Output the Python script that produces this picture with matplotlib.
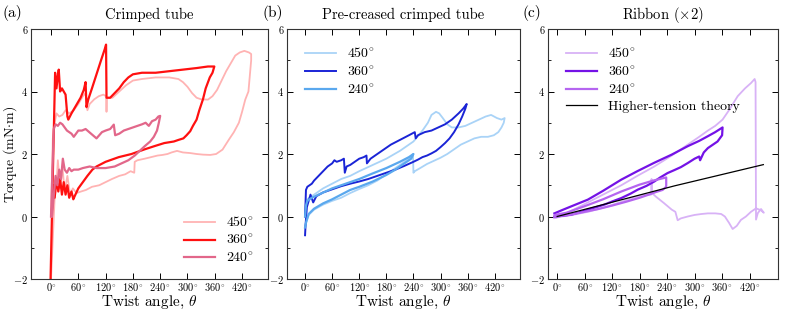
import matplotlib
matplotlib.use("Agg")
import matplotlib.pyplot as plt
from matplotlib.ticker import MultipleLocator, FixedLocator

plt.rcParams['font.family'] = 'serif'
plt.rcParams['font.serif'] = ['cmr10']
plt.rcParams['mathtext.fontset'] = 'cm'
plt.rcParams['axes.formatter.use_mathtext'] = True

# ---- (a) crimped tube ----
a450_x = [0, 4, 8, 12, 18, 25, 32, 40, 50, 60, 70, 76, 80, 85, 95, 105, 115, 121, 122, 123, 135, 150, 165,
          180, 200, 230, 260, 280, 290, 300, 310, 320, 330, 345, 355, 365, 375, 385, 395, 405, 415, 425, 435,
          440, 440, 437, 434, 427, 420, 413, 402, 391, 377, 363, 350, 334, 320, 306, 290, 277, 265, 256, 245,
          234, 220, 206, 190, 184, 183, 175, 163, 150, 134, 120, 106, 90, 77, 66, 56, 48, 42, 36, 30, 25, 20,
          15, 12, 8, 0]
a450_y = [0, 2.5, 3.0, 3.3, 3.2, 3.25, 3.4, 3.3, 3.4, 3.6, 3.85, 3.95, 3.4, 3.6, 3.75, 3.85, 3.9, 3.85, 3.35, 3.8,
          3.8, 4.0, 4.2, 4.35, 4.4, 4.45, 4.45, 4.4, 4.3, 4.15, 3.95, 3.8, 3.75, 3.74, 3.85, 4.05, 4.35, 4.65,
          4.9, 5.15, 5.25, 5.3, 5.25, 5.2, 5.0, 4.5, 4.0, 3.74, 3.35, 3.0, 2.7, 2.46, 2.14, 2.0, 1.97, 1.98,
          2.0, 2.03, 2.05, 2.1, 2.05, 2.0, 1.97, 1.95, 1.9, 1.85, 1.8, 1.75, 1.4, 1.45, 1.35, 1.3, 1.2, 1.1,
          1.0, 0.95, 0.85, 0.8, 0.75, 0.9, 0.7, 1.3, 0.8, 1.6, 0.9, 1.8, 1.0, 0.6, -2.0]

a360_x = [-1, 5, 9, 12, 15, 17, 20, 24, 28, 32, 36, 38, 45, 55, 65, 72, 76, 78, 82, 90, 100, 110, 118, 121,
          122, 130, 140, 150, 160, 170, 180, 200, 230, 260, 290, 320, 345, 359,
          355, 349, 340, 334, 326, 320, 312, 306, 298, 291, 280, 270, 249, 227, 206, 177, 149, 120, 100, 91,
          80, 70, 60, 52, 49, 45, 40, 36, 32, 28, 24, 20, 16, 12, 8, 5, 2]
a360_y = [-2.0, 2.0, 4.6, 4.1, 4.5, 4.7, 4.0, 4.1, 4.0, 3.9, 3.2, 3.1, 3.3, 3.55, 3.8, 4.05, 4.3, 3.5, 3.75,
          4.1, 4.55, 5.0, 5.35, 5.5, 3.8, 3.8, 3.95, 4.1, 4.3, 4.45, 4.55, 4.6, 4.6, 4.65, 4.7, 4.75, 4.8, 4.8,
          4.6, 4.45, 4.1, 3.75, 3.4, 3.1, 2.9, 2.73, 2.6, 2.5, 2.45, 2.4, 2.35, 2.25, 2.15, 2.0, 1.9, 1.75,
          1.6, 1.5, 1.3, 1.1, 0.9, 0.65, 0.55, 0.8, 0.6, 1.0, 0.7, 1.1, 0.7, 1.2, 0.8, 1.2, 0.6, 1.0, 0.2]

a240_x = [0, 6, 10, 15, 20, 25, 30, 35, 40, 45, 50, 55, 60, 68, 76, 84, 92, 100, 106, 112, 120, 130, 138, 141,
          150, 160, 170, 180, 190, 200, 208, 215, 222, 230, 236, 240,
          237, 233, 226, 218, 206, 195, 184, 170, 155, 140, 120, 100, 85, 70, 60, 50, 45, 40, 35, 30, 26, 22,
          18, 14, 10, 5, 2]
a240_y = [0, 2.8, 2.95, 2.9, 3.0, 2.95, 2.85, 2.75, 2.7, 2.65, 2.55, 2.65, 2.75, 2.75, 2.8, 2.7, 2.6, 2.5, 2.6,
          2.7, 2.75, 2.8, 2.94, 2.6, 2.65, 2.75, 2.8, 2.85, 2.9, 2.95, 3.0, 2.9, 3.05, 3.1, 3.2, 3.22,
          3.0, 2.75, 2.55, 2.4, 2.25, 2.1, 1.95, 1.8, 1.7, 1.6, 1.55, 1.55, 1.6, 1.55, 1.5, 1.5, 1.45, 1.55,
          1.4, 1.5, 1.85, 1.2, 1.5, 1.0, 1.3, 0.5, 0]

# ---- (b) pre-creased crimped tube ----
b450_x = [0, 2, 5, 10, 20, 40, 60, 80, 100, 120, 150, 180, 210, 240, 260, 272, 280, 290, 297, 305, 315, 325,
          340, 355, 370, 385, 400, 412, 425, 435, 442,
          440, 435, 428, 418, 405, 390, 375, 360, 345, 330, 315, 300, 285, 270, 255, 243, 240, 239, 230, 215,
          200, 180, 160, 140, 120, 100, 80, 60, 40, 20, 8, 2, 0]
b450_y = [0, 0.45, 0.55, 0.6, 0.7, 0.9, 1.05, 1.2, 1.3, 1.45, 1.65, 1.85, 2.1, 2.4, 2.75, 3.0, 3.25, 3.35, 3.3,
          3.15, 2.95, 2.85, 2.85, 2.9, 3.0, 3.1, 3.2, 3.25, 3.15, 3.1, 3.15,
          3.0, 2.85, 2.7, 2.6, 2.55, 2.55, 2.5, 2.4, 2.3, 2.15, 2.0, 1.88, 1.78, 1.68, 1.55, 1.45, 1.4, 2.0,
          1.85, 1.7, 1.55, 1.35, 1.15, 1.0, 0.88, 0.75, 0.6, 0.5, 0.38, 0.22, 0.05, -0.2, -0.35]

b360_x = [0, 2, 5, 10, 15, 20, 30, 40, 50, 55, 60, 65, 70, 80, 86, 88, 92, 100, 110, 120, 130, 136, 137, 145,
          160, 175, 190, 210, 230, 243, 245, 250, 265, 280, 295, 310, 325, 340, 350, 358,
          355, 348, 340, 330, 320, 310, 300, 290, 280, 270, 260, 250, 240, 220, 200, 180, 160, 140, 120, 100,
          80, 60, 40, 25, 18, 12, 8, 4, 1, 0]
b360_y = [0, 0.85, 0.95, 1.0, 1.05, 1.15, 1.3, 1.45, 1.6, 1.65, 1.7, 1.8, 1.75, 1.8, 1.85, 1.4, 1.6, 1.65,
          1.75, 1.85, 1.9, 1.95, 1.7, 1.85, 2.0, 2.15, 2.3, 2.45, 2.6, 2.7, 2.5, 2.6, 2.7, 2.75, 2.85, 2.95,
          3.1, 3.3, 3.45, 3.6,
          3.45, 3.2, 2.95, 2.7, 2.5, 2.35, 2.22, 2.1, 2.02, 1.95, 1.9, 1.82, 1.75, 1.62, 1.5, 1.4, 1.3, 1.2,
          1.12, 1.05, 0.97, 0.87, 0.77, 0.65, 0.45, 0.7, 0.5, 0.3, -0.3, -0.6]

b240_x = [0, 2, 5, 15, 30, 60, 90, 120, 150, 180, 210, 230, 240,
          235, 220, 200, 180, 150, 120, 100, 80, 60, 40, 20, 8, 2, 0]
b240_y = [0, 0.35, 0.5, 0.6, 0.7, 0.9, 1.05, 1.2, 1.38, 1.55, 1.75, 1.9, 2.0,
          1.85, 1.7, 1.5, 1.33, 1.12, 0.95, 0.85, 0.7, 0.55, 0.42, 0.25, 0.08, -0.2, -0.35]

# ---- (c) ribbon ----
c450_x = [-6, 20, 67, 100, 140, 175, 212, 250, 285, 310, 329, 345, 361, 375, 394, 410, 423, 431, 433, 434, 438,
          445, 451,
          445, 434, 423, 412, 401, 392, 383, 375, 366, 358, 345, 329, 315, 300, 285, 270, 263, 258, 250, 233,
          216, 207, 206, 205, 190, 170, 150, 130, 110, 90, 70, 50, 30, 10, -6]
c450_y = [-0.05, 0.1, 0.45, 0.7, 1.0, 1.3, 1.6, 1.95, 2.3, 2.55, 2.75, 2.9, 3.1, 3.4, 3.85, 4.1, 4.27, 4.4, 4.3,
          -0.1, 0.11, 0.24, 0.12,
          0.2, 0.26, 0.15, 0.0, -0.11, -0.3, -0.4, -0.2, 0.0, 0.08, 0.1, 0.1, 0.08, 0.05, 0.0, -0.06, -0.12,
          0.15, 0.22, 0.43, 0.63, 0.75, 1.2, 0.7, 0.7, 0.62, 0.52, 0.42, 0.32, 0.24, 0.16, 0.1, 0.04, 0.0, -0.05]

c360_x = [-6, 10, 30, 67, 100, 140, 175, 212, 250, 285, 310, 329, 345, 361,
          360, 350, 340, 329, 320, 312, 310, 300, 285, 270, 255, 241, 225, 212, 195, 176, 160, 140, 120, 103,
          85, 67, 50, 31, 10, -6]
c360_y = [0.1, 0.2, 0.32, 0.54, 0.82, 1.18, 1.45, 1.72, 1.98, 2.25, 2.42, 2.57, 2.7, 2.85,
          2.6, 2.4, 2.3, 2.19, 2.05, 1.8, 1.92, 1.85, 1.71, 1.58, 1.48, 1.39, 1.25, 1.12, 0.98, 0.86, 0.73,
          0.59, 0.48, 0.38, 0.3, 0.22, 0.14, 0.06, 0.02, 0.0]

c240_x = [-5, 20, 60, 100, 140, 180, 210, 238,
          238, 230, 215, 200, 180, 150, 120, 90, 60, 30, -5]
c240_y = [0.05, 0.12, 0.33, 0.55, 0.8, 1.02, 1.15, 1.25,
          0.95, 0.85, 0.78, 0.7, 0.6, 0.47, 0.35, 0.24, 0.15, 0.06, 0.0]

theory_x = [0, 100, 256, 450]
theory_y = [0, 0.38, 0.98, 1.66]

xticks = [0, 60, 120, 180, 240, 300, 360, 420]
labels = [r'$450^{\!\circ}$', r'$360^{\!\circ}$', r'$240^{\!\circ}$']

H = 311.0
W = 793.0


def styliziraj(ax, xlim):
    ax.set_xlim(*xlim)
    ax.set_ylim(-2, 6)
    ax.xaxis.set_major_locator(FixedLocator(xticks))
    ax.set_xticklabels([r'$%d^{\!\circ}$' % t for t in xticks], fontsize=7.5)
    ax.yaxis.set_major_locator(MultipleLocator(2))
    ax.yaxis.set_minor_locator(MultipleLocator(1))
    ax.tick_params(which='both', direction='in', top=True, right=True, labelsize=7.5)
    ax.tick_params(which='major', length=4, width=0.7)
    ax.tick_params(which='minor', length=2.5, width=0.6)
    ax.tick_params(axis='x', pad=1.5)
    ax.tick_params(axis='y', pad=2)
    for s in ax.spines.values():
        s.set_linewidth(0.8)
        s.set_color('#333333')
    ax.set_xlabel(r'Twist angle, $\theta$', fontsize=11)
    # gornji rub natpisa osi x
    ax.xaxis.set_label_coords(0.5, -(294 - 279) / 250.0)


fig = plt.figure(figsize=(7.93, 3.11), dpi=100)
ax_a = fig.add_axes([31 / W, 32 / H, 237 / W, 250 / H])
ax_b = fig.add_axes([287 / W, 32 / H, 233 / W, 250 / H])
ax_c = fig.add_axes([548 / W, 32 / H, 230 / W, 250 / H])

# (a)
ax_a.plot(a450_x, a450_y, color='#ffb3b3', lw=1.3, label=labels[0])
ax_a.plot(a360_x, a360_y, color='#ff1010', lw=1.6, label=labels[1])
ax_a.plot(a240_x, a240_y, color='#e2678a', lw=1.6, label=labels[2])
styliziraj(ax_a, (-44, 477))
ax_a.set_ylabel('Torque (mN$\\cdot$m)', fontsize=10)
ax_a.yaxis.set_label_coords(-(31 - 19) / 237.0, 0.5)
ax_a.set_title('Crimped tube', fontsize=10.5, pad=7)
ax_a.legend(loc='lower right', frameon=False, fontsize=10, handlelength=2.2,
            labelspacing=0.25, borderaxespad=0.6)

# (b)
ax_b.plot(b450_x, b450_y, color='#a9d3f7', lw=1.3, label=labels[0])
ax_b.plot(b360_x, b360_y, color='#1a24d6', lw=1.4, label=labels[1])
ax_b.plot(b240_x, b240_y, color='#5aa8ee', lw=1.6, label=labels[2])
styliziraj(ax_b, (-40, 476))
ax_b.set_title('Pre-creased crimped tube', fontsize=10.5, pad=7)
ax_b.legend(loc='upper left', frameon=False, fontsize=10, handlelength=2.2,
            labelspacing=0.25, borderaxespad=0.9)

# (c)
ax_c.plot(c450_x, c450_y, color='#d8b2f6', lw=1.3, label=labels[0])
ax_c.plot(c360_x, c360_y, color='#7412e6', lw=1.6, label=labels[1])
ax_c.plot(c240_x, c240_y, color='#b565f0', lw=1.6, label=labels[2])
ax_c.plot(theory_x, theory_y, color='black', lw=0.9, label='Higher-tension theory')
styliziraj(ax_c, (-20, 482))
ax_c.set_title('Ribbon ($\\times$2)', fontsize=10.5, pad=7)
ax_c.legend(loc='upper left', frameon=False, fontsize=10, handlelength=2.2,
            labelspacing=0.25, borderaxespad=0.9)

fig.text(2 / W, 1 - 13 / H, '(a)', fontsize=11, va='center')
fig.text(262 / W, 1 - 13 / H, '(b)', fontsize=11, va='center')
fig.text(522 / W, 1 - 13 / H, '(c)', fontsize=11, va='center')

fig.savefig('out.png', dpi=100)
